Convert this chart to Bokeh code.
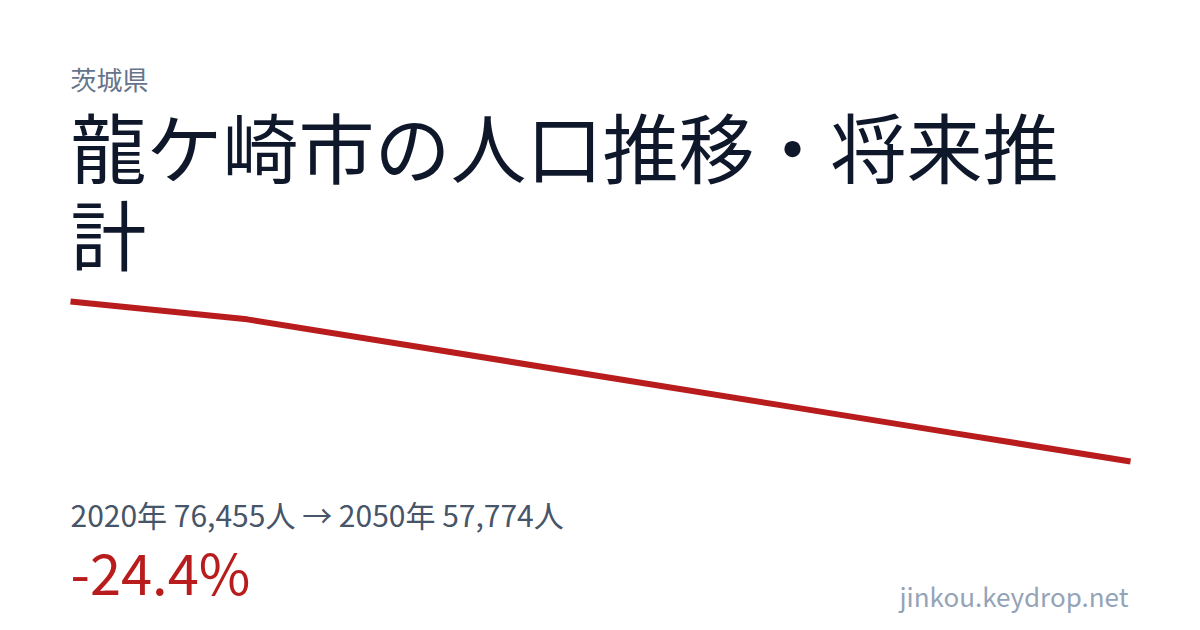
from bokeh.plotting import figure
from bokeh.models import Label, Range1d
from bokeh.embed import file_html
from bokeh.resources import INLINE

# Data
years = [2020, 2025, 2030, 2035, 2040, 2045, 2050]
population = [76455, 74370, 71050, 67730, 64410, 61090, 57774]

prefecture = "茨城県"
title_line1 = "龍ケ崎市の人口推移・将来推"
title_line2 = "計"
summary = "2020年 76,455人 → 2050年 57,774人"
change = "-24.4%"
site = "jinkou.keydrop.net"

W, H = 1184, 614
FONT = "Noto Sans CJK JP"

p = figure(width=W, height=H, output_backend="svg", toolbar_location=None,
           x_axis_type=None, y_axis_type=None, min_border=0,
           x_range=Range1d(2018.019, 2051.528), y_range=Range1d(39910, 111599))
p.grid.visible = False
p.outline_line_color = None
p.background_fill_color = "white"
p.border_fill_color = "white"

p.line(years, population, line_color="#b91c1c", line_width=6)

def lab(text, x, y, size, color, align="left"):
    p.add_layout(Label(x=x, y=y, x_units="screen", y_units="screen", text=text,
                       text_font=FONT, text_font_size=f"{size}px", text_color=color,
                       text_align=align, text_baseline="alphabetic"))

lab(prefecture, 70, 536, 26, "#64748b")
lab(title_line1, 70, 470, 76, "#0f172a")
lab(title_line2, 70, 383, 76, "#0f172a")
lab(summary, 70, 101, 30, "#475569")
lab(change, 70, 44, 56, "#b91c1c")
lab(site, 1128, 19, 26, "#94a3b8", align="right")

open("out.html", "w").write(file_html(p, INLINE))
